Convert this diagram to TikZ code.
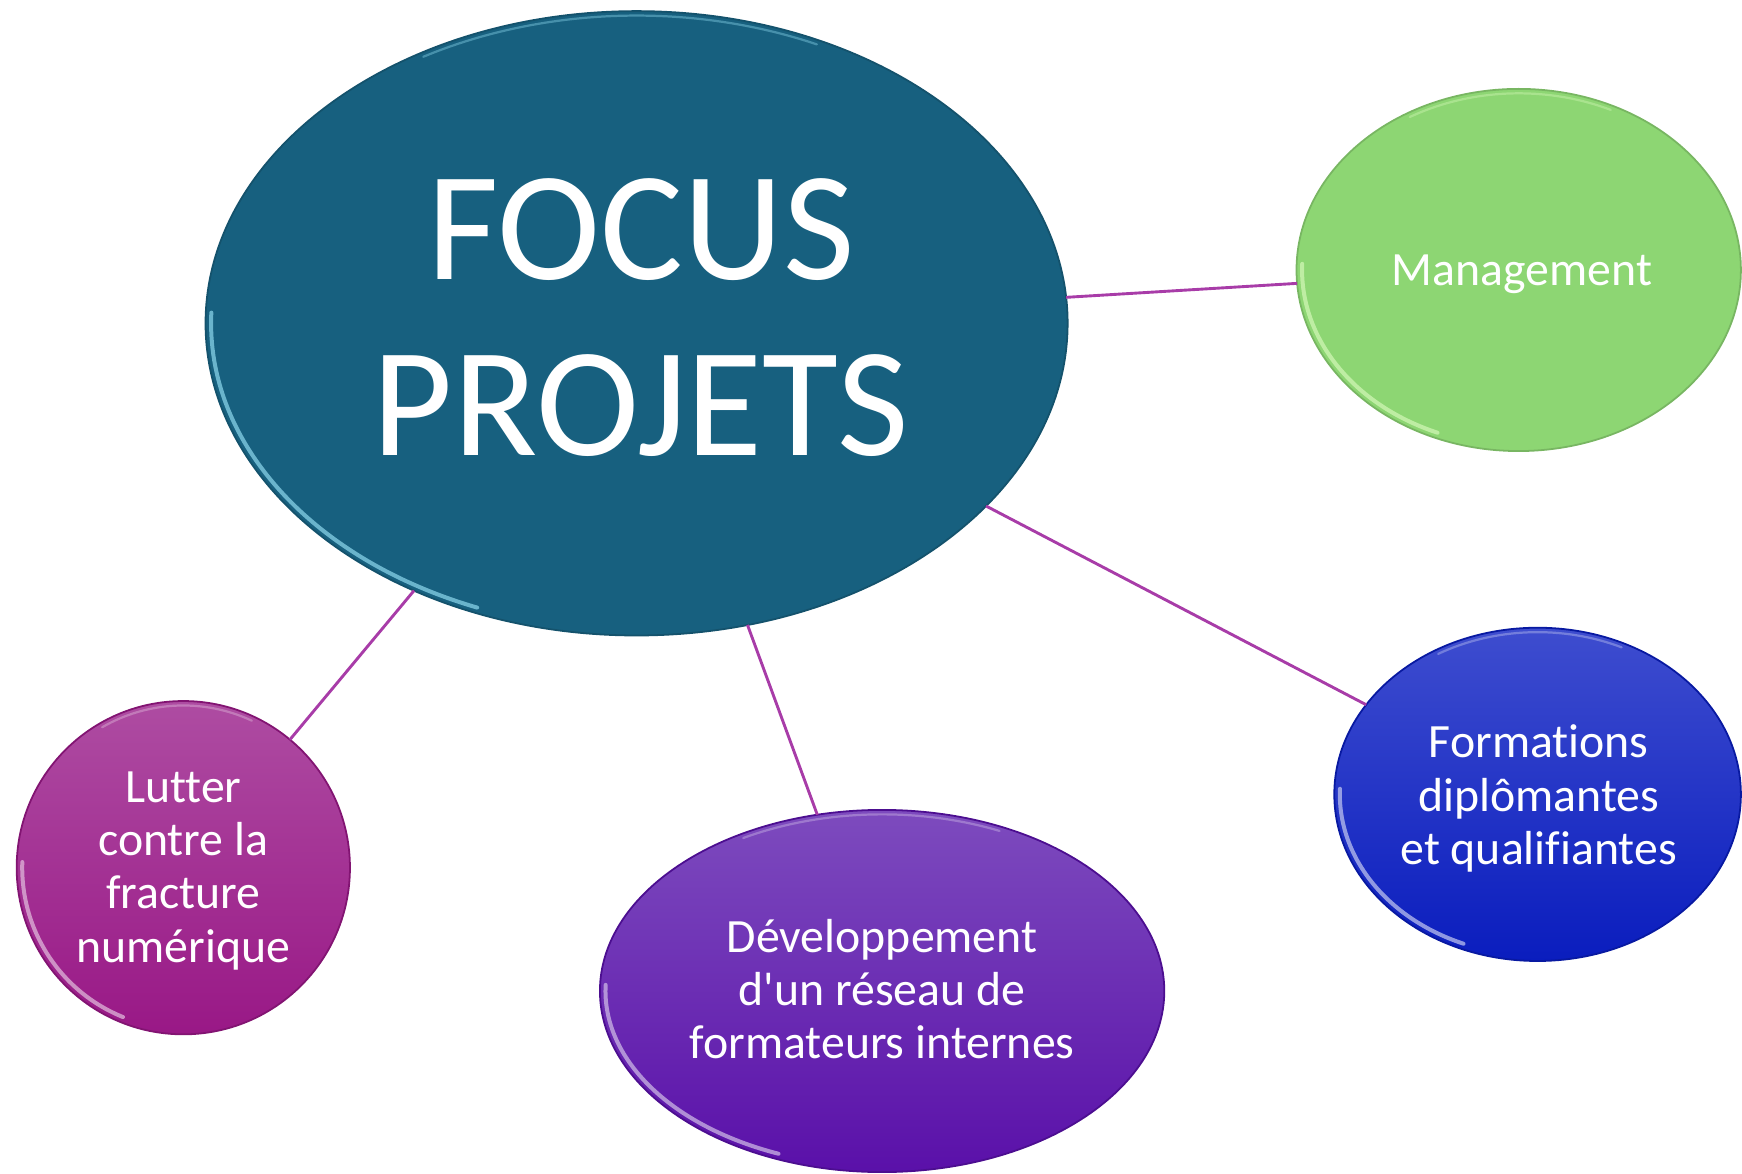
\documentclass[tikz,border=0pt]{standalone}
\usepackage{fontspec}
\newfontfamily\calib{Carlito}[Ligatures=NoCommon]
\usetikzlibrary{shapes.geometric}
\definecolor{linec}{HTML}{A83CA8}
\definecolor{mainc}{HTML}{17607F}
\definecolor{mainrim}{HTML}{8ED8EE}
\definecolor{mgmtc}{HTML}{8DD673}
\definecolor{mgmtrim}{HTML}{D4F8B8}
\definecolor{formtop}{HTML}{3E4DCF}
\definecolor{formbot}{HTML}{0A1DBE}
\definecolor{devtop}{HTML}{7D4BBE}
\definecolor{devbot}{HTML}{5A10A9}
\definecolor{luttop}{HTML}{AE4CA2}
\definecolor{lutbot}{HTML}{991886}
\newcommand\bubblegloss[4]{%
  \draw[#4, line width=1.8pt, opacity=.7, line cap=round]
    (#1) ++(178:{#2-2.5pt} and {#3-2.5pt})
    arc[start angle=178, end angle=248, x radius={#2-2.5pt}, y radius={#3-2.5pt}];
  \draw[#4, line width=1pt, opacity=.4, line cap=round]
    (#1) ++(65:{#2-2pt} and {#3-2pt})
    arc[start angle=65, end angle=120, x radius={#2-2pt}, y radius={#3-2pt}];
}
\begin{document}
\begin{tikzpicture}[x=0.5pt,y=-0.5pt,
  bubble/.style={ellipse, inner sep=0pt, outer sep=0pt, line width=0.8pt},
  lbl/.style={text=white, align=center, anchor=base, inner sep=0pt,
    font=\calib\fontsize{21.5}{24}\selectfont},
  conn/.style={draw=linec, line width=1.3pt}]
\useasboundingbox (0,0) rectangle (1568,1056);
% bubbles
\node[bubble, fill=mainc, draw=mainc!85!black, minimum width=388pt, minimum height=281pt] (main) at (573,291) {};
\node[bubble, fill=mgmtc, draw=mgmtc!85!black, minimum width=200pt, minimum height=163pt] (mgmt) at (1367,243) {};
\node[bubble, top color=formtop, bottom color=formbot, draw=formbot!85!black, minimum width=183pt, minimum height=150pt] (form) at (1384,715) {};
\node[bubble, top color=devtop, bottom color=devbot, draw=devbot!85!black, minimum width=254pt, minimum height=163pt] (dev) at (794,892) {};
\node[bubble, top color=luttop, bottom color=lutbot, draw=lutbot!85!black, minimum width=150pt, minimum height=150pt] (lut) at (165,781) {};
% gloss
\bubblegloss{main.center}{194pt}{140.5pt}{mainrim}
\bubblegloss{mgmt.center}{100pt}{81.5pt}{mgmtrim}
\bubblegloss{form.center}{91.5pt}{75pt}{white!70!formtop}
\bubblegloss{dev.center}{127pt}{81.5pt}{white!65!devtop}
\bubblegloss{lut.center}{75pt}{75pt}{white!65!luttop}
% connectors
\draw[conn] (main) -- (mgmt);
\draw[conn] (main) -- (form);
\draw[conn] (main) -- (dev);
\draw[conn] (main) -- (lut);
% texts (anchor = baseline of last line)
\node[lbl, font=\calib\fontsize{70}{79}\selectfont] (maint) at (577,410) {FOCUS\\PROJETS};
\node[lbl] (mgmtt) at (1370,257) {Management};
\node[lbl] (formt) at (1385,778) {Formations\\diplômantes\\et qualifiantes};
\node[lbl] (devt) at (794,953) {Développement\\d'un réseau de\\formateurs internes};
\node[lbl] (lutt) at (165,866) {Lutter\\contre la\\fracture\\numérique};
\end{tikzpicture}
\end{document}
